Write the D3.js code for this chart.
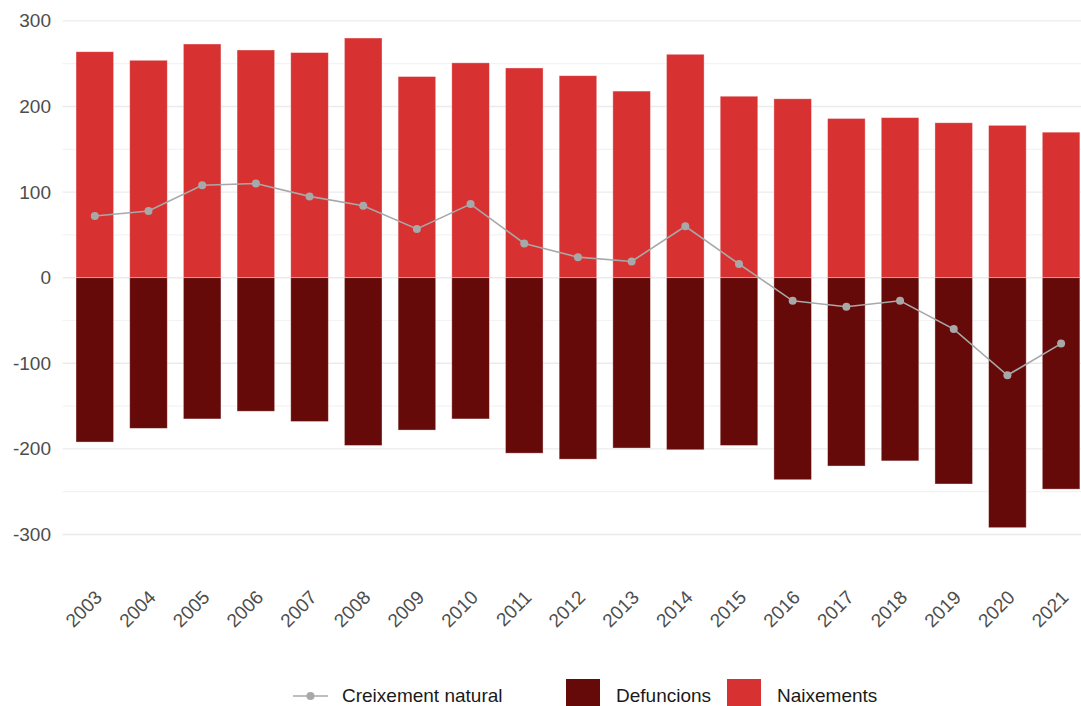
<!DOCTYPE html>
<html lang="ca">
<head>
    <meta charset="UTF-8">
    <title>Naixements i defuncions</title>
    <script src="https://d3js.org/d3.v7.min.js"></script>
    <style>
        body { margin: 0; background: #fff; }
        svg { display: block; font-family: "Liberation Sans", Arial, sans-serif; }
    </style>
</head>
<body>
    <div id="chart"></div>
    <script>
        // Data
        const years = ['2003', '2004', '2005', '2006', '2007', '2008', '2009', '2010', '2011', '2012',
                       '2013', '2014', '2015', '2016', '2017', '2018', '2019', '2020', '2021'];
        const naixements = [264, 254, 273, 266, 263, 280, 235, 251, 245, 236, 218, 261, 212, 209, 186, 187, 181, 178, 170];
        const defuncions = [-192, -176, -165, -156, -168, -196, -178, -165, -205, -212, -199, -201, -196, -236, -220, -214, -241, -292, -247];
        const creixement = [72, 78, 108, 110, 95, 84, 57, 86, 40, 24, 19, 60, 16, -27, -34, -27, -60, -114, -77];
        const yTicks = [-300, -200, -100, 0, 100, 200, 300];
        const yMinor = [-250, -150, -50, 50, 150, 250];

        const width = 1081;
        const height = 706;
        const colNaix = '#d83131';
        const colDef = '#660909';
        const colLine = '#a8a8a8';

        const svg = d3.select('#chart')
            .append('svg')
            .attr('width', width)
            .attr('height', height);

        // scales
        const x = d3.scaleBand()
            .domain(years)
            .range([62.6, 1093.3])
            .paddingInner(0.3)
            .paddingOuter(0.25);

        const y = d3.scaleLinear()
            .domain([-300, 300])
            .range([534.5, 20.9]);

        // gridlines
        svg.append('g')
            .selectAll('line')
            .data(yMinor)
            .enter().append('line')
            .attr('x1', 62.6).attr('x2', width)
            .attr('y1', d => y(d)).attr('y2', d => y(d))
            .attr('stroke', '#f3f3f3')
            .attr('stroke-width', 1.2);

        svg.append('g')
            .selectAll('line')
            .data(yTicks)
            .enter().append('line')
            .attr('x1', 62.6).attr('x2', width)
            .attr('y1', d => y(d)).attr('y2', d => y(d))
            .attr('stroke', '#ebebeb')
            .attr('stroke-width', 1.4);

        // y axis labels (plain hyphen for negatives, like the original)
        const yAxis = svg.append('g')
            .attr('transform', 'translate(51,0)')
            .call(d3.axisLeft(y).tickValues(yTicks).tickFormat(d => String(d)).tickSize(0).tickPadding(0));
        yAxis.select('.domain').remove();
        yAxis.selectAll('text')
            .attr('font-size', 19)
            .attr('font-family', '"Liberation Sans", Arial, sans-serif')
            .attr('fill', '#4d4d4d');

        // bars
        svg.append('g')
            .selectAll('rect')
            .data(years)
            .enter().append('rect')
            .attr('x', d => x(d))
            .attr('width', x.bandwidth())
            .attr('y', (d, i) => y(naixements[i]))
            .attr('height', (d, i) => y(0) - y(naixements[i]))
            .attr('fill', colNaix)
            .attr('stroke', '#ffffff')
            .attr('stroke-opacity', 0.45)
            .attr('stroke-width', 0.8);

        svg.append('g')
            .selectAll('rect')
            .data(years)
            .enter().append('rect')
            .attr('x', d => x(d))
            .attr('width', x.bandwidth())
            .attr('y', y(0))
            .attr('height', (d, i) => y(defuncions[i]) - y(0))
            .attr('fill', colDef)
            .attr('stroke', '#ffffff')
            .attr('stroke-opacity', 0.45)
            .attr('stroke-width', 0.8);

        // natural growth line
        const cx = d => x(d) + x.bandwidth() / 2;
        const line = d3.line()
            .x(d => cx(d))
            .y((d, i) => y(creixement[i]));

        svg.append('path')
            .datum(years)
            .attr('d', line)
            .attr('fill', 'none')
            .attr('stroke', colLine)
            .attr('stroke-width', 1.6);

        svg.append('g')
            .selectAll('circle')
            .data(years)
            .enter().append('circle')
            .attr('cx', d => cx(d))
            .attr('cy', (d, i) => y(creixement[i]))
            .attr('r', 4)
            .attr('fill', colLine);

        // x labels, rotated
        svg.append('g')
            .selectAll('text')
            .data(years)
            .enter().append('text')
            .attr('transform', d => `translate(${cx(d) - 1},589) rotate(-45)`)
            .attr('text-anchor', 'end')
            .attr('dy', '0.71em')
            .attr('font-size', 19)
            .attr('fill', '#4d4d4d')
            .text(d => d);

        // legend
        const legend = svg.append('g');
        legend.append('line')
            .attr('x1', 293).attr('x2', 328)
            .attr('y1', 696).attr('y2', 696)
            .attr('stroke', colLine)
            .attr('stroke-width', 1.6);
        legend.append('circle')
            .attr('cx', 310.5).attr('cy', 696).attr('r', 4)
            .attr('fill', colLine);
        legend.append('text')
            .attr('x', 342).attr('y', 695).attr('dy', '0.35em')
            .attr('font-size', 19).attr('fill', '#1a1a1a')
            .text('Creixement natural');

        legend.append('rect')
            .attr('x', 566).attr('y', 679).attr('width', 34).attr('height', 34)
            .attr('fill', colDef);
        legend.append('text')
            .attr('x', 616).attr('y', 695).attr('dy', '0.35em')
            .attr('font-size', 19).attr('fill', '#1a1a1a')
            .text('Defuncions');

        legend.append('rect')
            .attr('x', 727).attr('y', 679).attr('width', 34).attr('height', 34)
            .attr('fill', colNaix);
        legend.append('text')
            .attr('x', 777).attr('y', 695).attr('dy', '0.35em')
            .attr('font-size', 19).attr('fill', '#1a1a1a')
            .text('Naixements');
    </script>
</body>
</html>
